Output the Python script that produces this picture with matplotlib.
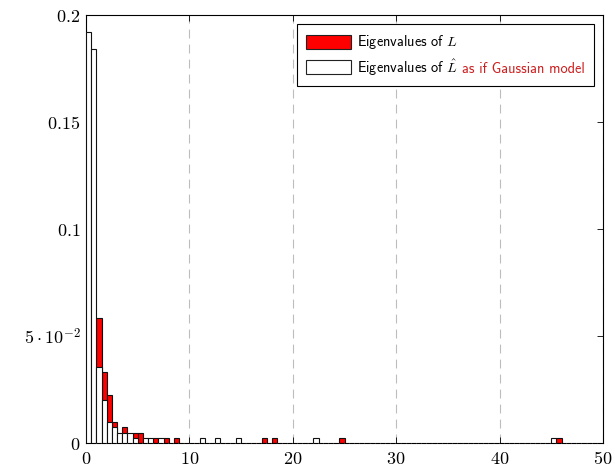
import matplotlib
matplotlib.use("Agg")
import matplotlib.pyplot as plt
from matplotlib.offsetbox import AnchoredOffsetbox, HPacker, VPacker, TextArea, DrawingArea
from matplotlib.patches import Rectangle

plt.rcParams['mathtext.fontset'] = 'cm'

bin_width = 0.5

# histogram of the eigenvalues of L (left bin edge, bar height)
L_bins = [1.0, 1.5, 2.0, 2.5, 3.5, 4.5, 5.0, 6.5, 7.5, 8.5, 17.0, 18.0, 24.5, 45.5]
L_heights = [0.0586, 0.0330, 0.0226, 0.0100, 0.0073, 0.0045, 0.0045,
             0.0023, 0.0023, 0.0023, 0.0023, 0.0023, 0.0023, 0.0023]

# histogram of the eigenvalues of L-hat (gaussian model)
Lhat_bins = [0.0, 0.5, 1.0, 1.5, 2.0, 2.5, 3.0, 3.5, 4.0, 4.5, 5.5, 6.0, 7.0,
             11.0, 12.5, 14.5, 22.0, 45.0]
Lhat_heights = [0.192, 0.184, 0.0353, 0.0201, 0.0097, 0.0073, 0.0045, 0.0045,
                0.0045, 0.0023, 0.0023, 0.0023, 0.0023, 0.0023, 0.0023, 0.0023,
                0.0023, 0.0023]

x_ticks = [0, 10, 20, 30, 40, 50]
y_ticks = [0, 0.05, 0.1, 0.15, 0.2]
y_labels = ['$0$', r'$5\cdot10^{-2}$', '$0.1$', '$0.15$', '$0.2$']

fig = plt.figure(figsize=(6.15, 4.65), dpi=100)
ax = fig.add_axes([86 / 615, 22 / 465, 517 / 615, 428 / 465])

ax.bar(L_bins, L_heights, width=bin_width, align='edge',
       facecolor='#ff0000', edgecolor='#111111', linewidth=0.8, zorder=2)
ax.bar(Lhat_bins, Lhat_heights, width=bin_width, align='edge',
       facecolor='white', edgecolor='#111111', linewidth=0.8, zorder=3)

ax.set_xlim(0, 50)
ax.set_ylim(0, 0.2)
ax.set_xticks(x_ticks)
ax.set_xticklabels(['$%d$' % t for t in x_ticks])
ax.set_yticks(y_ticks)
ax.set_yticklabels(y_labels)
ax.tick_params(direction='in', length=4, width=0.6, top=True, right=True,
               labelsize=13)
ax.tick_params(axis='x', pad=5)
ax.tick_params(axis='y', pad=4)

ax.xaxis.grid(True, color='#bdbdbd', linewidth=0.8, linestyle=(0, (8, 5.5)))
ax.set_axisbelow(True)
for sp in ax.spines.values():
    sp.set_linewidth(0.8)
ax.spines['bottom'].set_linestyle((0, (3.5, 1.15)))

# legend with a two-coloured label for the second entry
leg_font = dict(family='cmss10', size=10.3)


def legend_row(face, parts):
    da = DrawingArea(32.5, 10, 0, 0)
    da.add_artist(Rectangle((0, 0), 32.5, 10, facecolor=face,
                            edgecolor='#222222', linewidth=0.8))
    texts = [TextArea(t, textprops=dict(color=c, **leg_font)) for t, c in parts]
    label = HPacker(children=texts, align='baseline', pad=0, sep=2.5)
    return HPacker(children=[da, label], align='center', pad=0, sep=4.5)


rows = VPacker(children=[
    legend_row('#ff0000', [('Eigenvalues of $L$', 'black')]),
    legend_row('white', [(r'Eigenvalues of $\hat{L}$', 'black'),
                         ('as if Gaussian model', '#cc1f1f')]),
], align='left', pad=0, sep=4.5)

leg = AnchoredOffsetbox(loc='upper right', child=rows, pad=0.62, borderpad=0.68,
                        frameon=True, bbox_to_anchor=(1, 1),
                        bbox_transform=ax.transAxes, prop=dict(size=10))
leg.patch.set_boxstyle('square', pad=0)
leg.patch.set_edgecolor('black')
leg.patch.set_linewidth(0.8)
leg.set_zorder(5)
ax.add_artist(leg)

fig.savefig('out.png', dpi=100)
